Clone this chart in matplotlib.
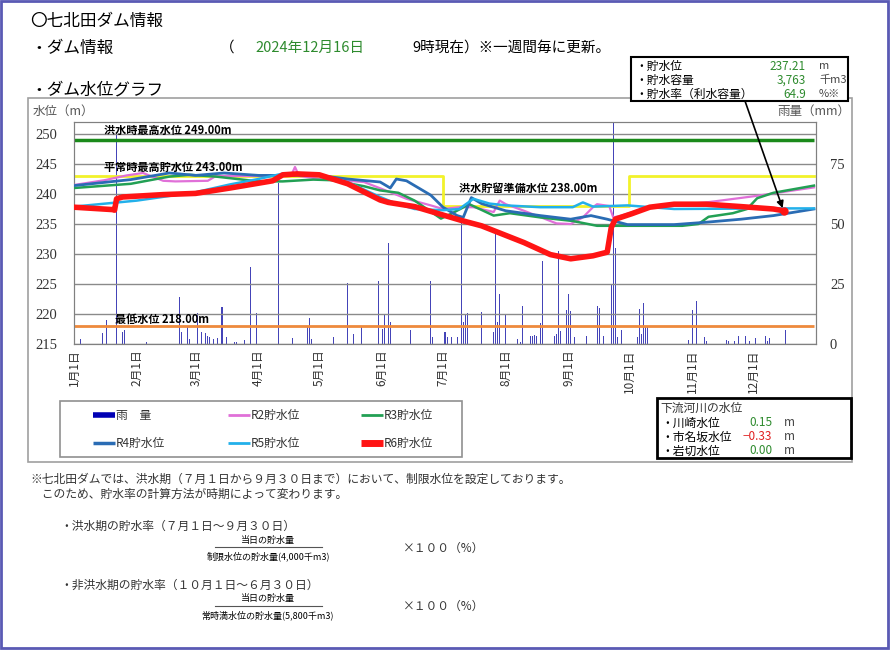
import numpy as np
import matplotlib
matplotlib.use('Agg')
import matplotlib.pyplot as plt
from matplotlib.patches import Rectangle

plt.rcParams['font.family'] = ['Noto Sans CJK JP', 'DejaVu Sans']

# %% values (x = day of year 2024, 0 = 1月1日)
month_start = [0, 31, 60, 91, 121, 152, 182, 213, 244, 274, 305, 335]
month_label = ['1月1日', '2月1日', '3月1日', '4月1日', '5月1日', '6月1日',
               '7月1日', '8月1日', '9月1日', '10月1日', '11月1日', '12月1日']

# reference levels (m)
flood_max = 249.0
low_level = 218.0
limit_day = [0, 182, 274, 365]
limit_lvl = [243.0, 238.0, 243.0, 243.0]

# storage level per year (m)
r2_day = [0, 15, 26, 34, 44, 50, 66, 70, 80, 100, 107, 109, 111, 122, 143, 156, 164, 176, 182,
          190, 197, 207, 210, 213, 222, 238, 245, 251, 256, 258, 264, 266, 270, 284, 312, 337, 365]
r2_lvl = [241.5, 242.3, 243.1, 243.5, 242.2, 242.1, 242.2, 243.0, 243.0, 243.0, 243.0, 244.5, 243.0,
          242.5, 242.0, 240.3, 239.2, 238.1, 237.5, 237.8, 237.8, 237.0, 238.9, 238.3, 237.2, 235.1,
          235.0, 236.1, 237.8, 238.3, 238.0, 236.1, 236.4, 237.9, 238.6, 239.7, 241.1]

r3_day = [0, 28, 47, 57, 70, 91, 103, 118, 127, 143, 151, 160, 168, 181, 186, 195, 207, 215, 230,
          246, 258, 300, 308, 313, 325, 332, 337, 345, 365]
r3_lvl = [241.0, 241.7, 242.9, 243.2, 242.9, 242.1, 242.1, 242.4, 242.3, 241.3, 240.6, 240.2, 238.9,
          235.9, 236.7, 238.3, 236.4, 236.8, 236.1, 235.5, 234.7, 234.7, 235.0, 236.2, 236.8, 237.5,
          239.3, 240.2, 241.4]

r4_day = [0, 28, 47, 60, 74, 91, 121, 135, 151, 156, 159, 164, 176, 182, 189, 192, 196, 201, 213,
          230, 245, 255, 263, 273, 296, 312, 329, 345, 365]
r4_lvl = [241.4, 242.4, 243.5, 243.1, 243.5, 243.1, 243.1, 242.5, 242.0, 241.0, 242.5, 242.2, 239.8,
          237.8, 236.4, 236.1, 239.4, 238.4, 237.2, 236.4, 235.8, 236.4, 235.8, 234.9, 234.9, 235.3,
          235.8, 236.4, 237.5]

r5_day = [0, 31, 60, 77, 91, 103, 121, 135, 151, 159, 168, 182, 190, 197, 205, 213, 230, 246, 251,
          256, 273, 296, 345, 365]
r5_lvl = [237.9, 238.9, 240.3, 241.6, 242.5, 243.4, 243.1, 242.0, 239.5, 238.4, 237.5, 237.3, 237.5,
          239.2, 238.4, 238.1, 237.8, 237.8, 238.6, 237.9, 238.1, 237.5, 237.6, 237.6]

r6_day = [0, 19, 20, 21, 24, 44, 60, 77, 91, 98, 103, 110, 121, 135, 151, 155, 168, 182, 191, 201,
          207, 222, 235, 245, 256, 263, 265, 267, 275, 284, 296, 312, 329, 345, 350]
r6_lvl = [237.8, 237.4, 237.3, 239.2, 239.5, 239.9, 240.1, 241.0, 241.8, 242.2, 243.2, 243.35, 243.2,
          241.7, 239.0, 238.6, 237.9, 236.5, 235.6, 234.7, 233.9, 231.9, 229.9, 229.2, 229.7, 230.3,
          234.4, 235.8, 236.7, 237.8, 238.3, 238.3, 237.9, 237.5, 237.21]

# daily rainfall (mm)
rain_day = [3, 14, 16, 21, 24, 25, 36, 52, 53, 56, 57, 61, 63, 65, 66, 67, 69, 71, 73, 75, 79, 80,
            84, 87, 90, 101, 108, 115, 116, 117, 128, 135, 138, 142, 150, 152, 153, 155, 156, 166,
            176, 177, 183, 184, 186, 189, 191, 192, 193, 194, 201, 207, 208, 209, 210, 213, 219,
            220, 221, 225, 226, 227, 228, 230, 231, 237, 238, 239, 240, 243, 244, 245, 247, 253,
            258, 259, 261, 265, 266, 267, 268, 270, 278, 279, 280, 281, 282, 283, 303, 305, 307,
            311, 312, 322, 323, 326, 328, 331, 333, 336, 341, 342, 343, 351]
rain_mm = [2, 4.4, 10, 88, 5, 6, 1, 19.4, 5, 7, 2, 13, 5, 4.4, 3.5, 3, 2, 2.3, 15.3, 3, 1, 1,
           1.7, 32, 13, 67, 2.3, 7, 11, 2, 3, 25.5, 4, 7, 26.4, 6.4, 12, 42, 9, 6,
           26.4, 3, 5, 3, 2.8, 2.8, 53, 9, 12, 13, 13.3, 5, 46, 9, 21, 12, 2,
           1, 15.7, 3.5, 3.5, 3.8, 3.5, 8.7, 34.4, 3.5, 4.2, 38.6, 5.6, 14, 21, 13.8, 2.8, 3.5,
           15.7, 15, 3.5, 25, 95, 40, 2.8, 6, 2.8, 14.7, 4.2, 16.9, 7, 7, 1.7, 14, 18,
           2.8, 1.1, 1.7, 1.1, 1.1, 3.5, 3.5, 1.1, 2.5, 3.5, 1.4, 2.5, 6]

# %% figure
fig = plt.figure(figsize=(8.9, 6.5), dpi=100)
W, H = 890, 650

# pixel-coordinate overlay for the page texts and boxes
bg = fig.add_axes([0, 0, 1, 1], zorder=0)
bg.set_xlim(0, W)
bg.set_ylim(H, 0)
bg.axis('off')

# chart axes: left 74px, right 816px, top 122px, bottom 344px
ax2 = fig.add_axes([74 / W, 1 - 344 / H, (816 - 74) / W, (344 - 122) / H], zorder=1)
ax = ax2.twinx()
ax.set_zorder(2)
ax.patch.set_visible(False)
ax.yaxis.tick_left()
ax.yaxis.set_label_position('left')
ax2.yaxis.tick_right()

# rain bars
ax2.bar(rain_day, rain_mm, width=0.5, color='#4444b8', linewidth=0)
ax2.set_ylim(0, 92.5)
ax2.set_yticks([0, 25, 50, 75])
ax2.set_xlim(0, 366)

# reference lines
ax.hlines(flood_max, 0, 365, color='#1a8a1a', lw=2.5, zorder=2)
ax.hlines(low_level, 0, 365, color='#ee8a3c', lw=2, zorder=2)
ax.step(limit_day, limit_lvl, where='post', color='#f2f22a', lw=2, zorder=2)

l2, = ax.plot(r2_day, r2_lvl, color='#e070d8', lw=1.6, zorder=3)
l3, = ax.plot(r3_day, r3_lvl, color='#22a054', lw=1.8, zorder=3)
l4, = ax.plot(r4_day, r4_lvl, color='#2a6cb4', lw=2.0, zorder=3)
l5, = ax.plot(r5_day, r5_lvl, color='#22b0ea', lw=1.8, zorder=3)
l6, = ax.plot(r6_day, r6_lvl, color='#ff1414', lw=4, zorder=4, solid_capstyle='round')
ax.plot(r6_day[-1], r6_lvl[-1], 'o', color='#ff1414', ms=5, zorder=5)

ax.set_ylim(215, 252)
ax.set_xlim(0, 366)
ax.set_yticks(np.arange(215, 251, 5))
ax.set_xticks(month_start)
ax2.set_xticks(month_start)
ax2.set_xticklabels(month_label, rotation=90, fontsize=8.5, color='#333333')
ax.tick_params(axis='x', labelbottom=False, length=0)
ax.grid(True, color='#8a8a8a', lw=1)
ax.tick_params(axis='y', length=0, labelsize=10.5, labelcolor='#333333', pad=12)
ax2.tick_params(axis='y', length=0, labelsize=10.5, labelcolor='#333333', pad=10)
ax2.tick_params(axis='x', length=0, pad=4)
for lab in ax.get_yticklabels() + ax2.get_yticklabels():
    lab.set_family('Liberation Serif')
for a in (ax, ax2):
    for s in a.spines.values():
        s.set_color('#808080')

# level labels
lab_kw = dict(fontsize=8, fontweight='bold', zorder=6, va='center')
ax.text(15, 250.6, '洪水時最高水位 249.00m', **lab_kw)
ax.text(15, 244.5, '平常時最高貯水位 243.00m', **lab_kw)
ax.text(190, 241.0, '洪水貯留準備水位 238.00m', **lab_kw)
ax.text(20, 219.2, '最低水位 218.00m', **lab_kw)

# arrow from the info box to today's level
ax.annotate('', xy=(r6_day[-1], r6_lvl[-1]), xytext=(745, H - 101), textcoords='figure pixels',
            arrowprops=dict(arrowstyle='-|>', color='black', lw=1.2, mutation_scale=10,
                            shrinkA=0, shrinkB=2), annotation_clip=False, zorder=7)

# %% page frame and header
bg.add_patch(Rectangle((1, 1), W - 3, H - 3, fill=False, ec='#5a5ab4', lw=2))
bg.add_patch(Rectangle((28, 98), 824, 364, fill=False, ec='#a0a0a0', lw=1.2))

bg.text(30, 21, '〇七北田ダム情報', fontsize=12, va='center')
bg.text(30, 48, '・ダム情報', fontsize=12, va='center')
bg.text(220, 48, '（', fontsize=10.5, va='center')
bg.text(255, 48, '2024年12月16日', fontsize=10.5, va='center', color='#2e8b2e')
bg.text(412, 48, '9時現在）※一週間毎に更新。', fontsize=10.5, va='center')
bg.text(30, 90, '・ダム水位グラフ', fontsize=12, va='center')
bg.text(33, 111, '水位（m）', fontsize=9, va='center', color='#555555')
bg.text(850, 111, '雨量（mm）', fontsize=9, va='center', ha='right', color='#555555')

# info box
bg.add_patch(Rectangle((631, 57), 217, 44, fc='white', ec='black', lw=1.5))
info_lab = ['・貯水位', '・貯水容量', '・貯水率（利水容量）']
info_val = ['237.21', '3,763', '64.9']
info_unit = ['m', '千m3', '%※']
for i in range(3):
    y = 66 + 14 * i
    bg.text(635, y, info_lab[i], fontsize=8.5, va='center')
    bg.text(806, y, info_val[i], fontsize=8.5, va='center', ha='right', color='#2e8b2e')
    bg.text(819, y, info_unit[i], fontsize=8, va='center', color='#444444')

# legend box
bg.add_patch(Rectangle((60, 401), 402, 56, fc='white', ec='#909090', lw=1.2))
leg = [('雨　量', '#0000b4', 4), ('R2貯水位', l2.get_color(), 2), ('R3貯水位', l3.get_color(), 2),
       ('R4貯水位', l4.get_color(), 2.5), ('R5貯水位', l5.get_color(), 2), ('R6貯水位', l6.get_color(), 5)]
col_x = [93, 228, 361]
row_y = [415, 443]
for i, (name, c, w) in enumerate(leg):
    x0 = col_x[i % 3]
    y0 = row_y[i // 3]
    bg.plot([x0, x0 + 22], [y0, y0], color=c, lw=w, solid_capstyle='butt')
    bg.text(x0 + 23, y0, name, fontsize=8.5, va='center', color='#333333')

# downstream river box
bg.add_patch(Rectangle((657, 398), 194, 60, fc='white', ec='black', lw=2))
bg.text(660, 408, '下流河川の水位', fontsize=8.5, va='center', color='#333333')
river_lab = ['・川崎水位', '・市名坂水位', '・岩切水位']
river_val = ['0.15', '−0.33', '0.00']
river_col = ['#2e8b2e', '#e02020', '#2e8b2e']
for i in range(3):
    y = 423 + 14 * i
    bg.text(661, y, river_lab[i], fontsize=8.5, va='center')
    bg.text(772, y, river_val[i], fontsize=8.5, va='center', ha='right', color=river_col[i])
    bg.text(784, y, 'm', fontsize=8.5, va='center', color='#444444')

# %% notes under the chart
note_kw = dict(fontsize=8.5, va='center', color='#333333')
bg.text(30, 479, '※七北田ダムでは、洪水期（７月１日から９月３０日まで）において、制限水位を設定しております。', **note_kw)
bg.text(30, 494, '　このため、貯水率の計算方法が時期によって変わります。', **note_kw)
bg.text(60, 526, '・洪水期の貯水率（７月１日～９月３０日）', **note_kw)
bg.text(268, 540, '当日の貯水量', ha='center', fontsize=6.5, va='center')
bg.plot([215, 322], [547, 547], color='#555555', lw=0.8)
bg.text(268, 556, '制限水位の貯水量(4,000千m3)', ha='center', fontsize=6.5, va='center')
bg.text(403, 548, '×１００（%）', **note_kw)
bg.text(60, 585, '・非洪水期の貯水率（１０月１日～６月３０日）', **note_kw)
bg.text(268, 598, '当日の貯水量', ha='center', fontsize=6.5, va='center')
bg.plot([215, 322], [606, 606], color='#555555', lw=0.8)
bg.text(268, 615, '常時満水位の貯水量(5,800千m3)', ha='center', fontsize=6.5, va='center')
bg.text(403, 606, '×１００（%）', **note_kw)

fig.savefig('out.png', dpi=100)
